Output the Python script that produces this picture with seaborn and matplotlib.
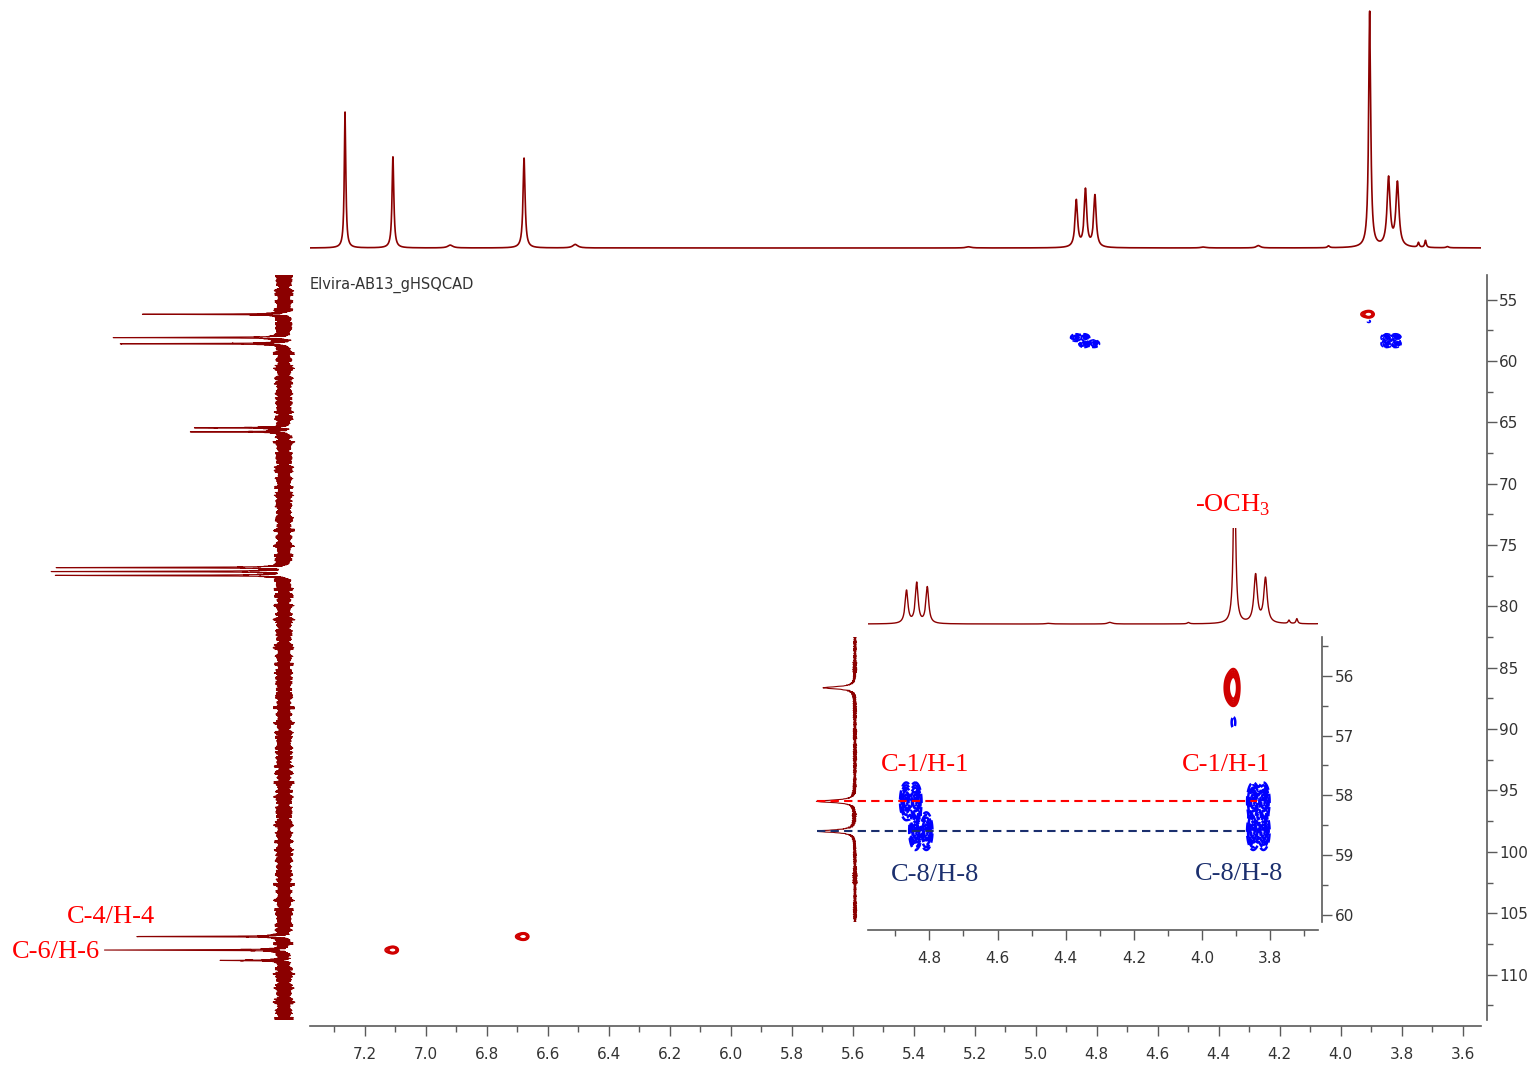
import numpy as np
import seaborn as sns
import matplotlib.pyplot as plt
from matplotlib.ticker import MultipleLocator, FormatStrFormatter

sns.set_theme(style="white")
plt.rcParams["font.family"] = ["DejaVu Sans"]
plt.rcParams["mathtext.fontset"] = "custom"
plt.rcParams["mathtext.rm"] = "Liberation Serif"

# colours
spec_red = "#8B0000"
label_red = "#FF0000"
label_navy = "#1B2F6E"
pos_red = "#D00000"
neg_blue = "#0000FF"
axis_grey = "#5A5A5A"
text_grey = "#333333"

# 1H projection (ppm, relative height, half width)
h_shift = [7.265, 7.108, 6.678, 6.920, 6.510, 5.220, 4.867, 4.837, 4.806, 4.450,
           4.270, 4.040, 3.905, 3.843, 3.814, 3.745, 3.722, 3.650]
h_height = [0.576, 0.386, 0.381, 0.012, 0.015, 0.005, 0.198, 0.243, 0.219, 0.004,
            0.010, 0.008, 1.000, 0.290, 0.270, 0.020, 0.030, 0.005]
h_hwhm = [0.003, 0.0035, 0.004, 0.010, 0.010, 0.010, 0.005, 0.005, 0.005, 0.010,
          0.008, 0.004, 0.004, 0.006, 0.006, 0.003, 0.003, 0.005]

# 13C projection (ppm, relative height)
c_shift = [56.2, 58.1, 58.6, 65.45, 65.78, 76.84, 77.16, 77.48, 106.9, 108.0, 108.85]
c_height = [0.574, 0.709, 0.705, 0.342, 0.367, 0.96, 0.96, 0.96, 0.633, 0.726, 0.249]
c_hwhm = 0.025

# baseline noise texture of the 13C trace
noise_a = [0.6, -0.9, 0.3, 1.0, -0.4, -1.0, 0.8, -0.2, 0.5, -0.7, 0.9, -0.5,
           0.1, -0.8, 0.7, 0.2, -0.6, 0.4, -0.3, 0.95, -0.85, 0.35, -0.15]
noise_b = [0.9, 0.6, 1.3, 0.75, 0.85, 0.55, 1.1, 0.7, 1.4, 0.65, 0.8, 1.0, 0.6]
noise_c = [1.2, 0.7, 1.0, 0.6, 1.3, 0.85, 0.65]

# HSQC cross peaks (1H ppm, 13C ppm, sign/amplitude)
cross_h = [7.108, 7.123, 6.680, 6.695, 3.908, 3.923, 3.908,
           4.868, 4.841, 4.841, 4.809, 3.850, 3.850, 3.820, 3.820]
cross_c = [108.0, 108.0, 106.9, 106.9, 56.2, 56.2, 56.78,
           58.1, 58.1, 58.6, 58.6, 58.1, 58.6, 58.1, 58.6]
cross_amp = [1.0, 0.2, 1.0, 0.2, 1.0, 0.2, -0.1,
             -1.0, -1.0, -1.0, -1.0, -1.0, -1.0, -1.0, -1.0]
sig_h, sig_c = 0.008, 0.14

pos_levels = [0.08, 0.14, 0.22, 0.32, 0.45]
neg_levels = [-0.9, -0.72, -0.55, -0.4, -0.27, -0.16, -0.08]

# ---- traces ----
h_axis = np.arange(3.50, 7.40, 0.0005)
h_trace = np.zeros_like(h_axis)
for x0, a, w in zip(h_shift, h_height, h_hwhm):
    h_trace += a * w**2 / ((h_axis - x0)**2 + w**2)

c_axis = np.arange(53.0, 113.7, 0.005)
c_trace = np.zeros_like(c_axis)
for x0, a in zip(c_shift, c_height):
    c_trace += a * c_hwhm**2 / ((c_axis - x0)**2 + c_hwhm**2)
n = len(c_axis)
envelope = 0.5 * (np.resize(np.repeat(noise_b, 37), n) + np.resize(np.repeat(noise_c, 59), n))
c_trace += 0.034 * np.resize(noise_a, n) * envelope


def hsqc_field(hh, cc):
    z = np.zeros_like(hh)
    for h0, c0, a in zip(cross_h, cross_c, cross_amp):
        z += a * np.exp(-0.5 * ((hh - h0) / sig_h)**2 - 0.5 * ((cc - c0) / sig_c)**2)
    return z


W, H = 1533, 1066
fig = plt.figure(figsize=(W / 100, H / 100), dpi=100)


def rect(x0, y0, x1, y1):
    return [x0 / W, 1 - y1 / H, (x1 - x0) / W, (y1 - y0) / H]


def style_axis(a, xmaj, xmin, ymaj, ymin, off_b, off_r, pady):
    for s in ["top", "left"]:
        a.spines[s].set_visible(False)
    for s in ["bottom", "right"]:
        a.spines[s].set_color(axis_grey)
        a.spines[s].set_linewidth(1.2)
    a.spines["bottom"].set_position(("outward", off_b))
    a.spines["right"].set_position(("outward", off_r))
    a.yaxis.tick_right()
    a.xaxis.set_major_locator(MultipleLocator(xmaj))
    a.xaxis.set_minor_locator(MultipleLocator(xmin))
    a.yaxis.set_major_locator(MultipleLocator(ymaj))
    a.yaxis.set_minor_locator(MultipleLocator(ymin))
    a.xaxis.set_major_formatter(FormatStrFormatter("%.1f"))
    a.yaxis.set_major_formatter(FormatStrFormatter("%d"))
    a.tick_params(which="both", bottom=True, right=True, left=False, top=False,
                  direction="out", color=axis_grey, labelcolor=text_grey,
                  labelsize=11, width=1)
    a.tick_params(which="major", length=7)
    a.tick_params(which="minor", length=4)
    a.tick_params(axis="x", pad=8)
    a.tick_params(axis="y", pad=pady)
    a.set_xlabel("")
    a.set_ylabel("")
    a.grid(False)


# ---- main 2D ----
h_lim = (7.38, 3.54)
c_lim = (113.7, 53.0)
ax = fig.add_axes(rect(310, 275, 1481, 1020))
hg = np.linspace(3.54, 7.38, 1500)
cg = np.linspace(53.0, 113.7, 1500)
HH, CC = np.meshgrid(hg, cg)
Z = hsqc_field(HH, CC)
ax.contour(HH, CC, Z, levels=pos_levels, colors=pos_red, linewidths=1.0)
ax.contour(HH, CC, Z, levels=neg_levels, colors=neg_blue, linewidths=1.1)
ax.set_xlim(*h_lim)
ax.set_ylim(*c_lim)
style_axis(ax, 0.2, 0.1, 5, 2.5, 4.5, 4.5, 1.5)
ax.text(0.0, 0.987, "Elvira-AB13_gHSQCAD", transform=ax.transAxes, fontsize=10.5,
        color=text_grey, ha="left", va="center")

# ---- top 1H projection ----
ax_top = fig.add_axes(rect(310, 8, 1481, 252))
sns.lineplot(x=h_axis, y=h_trace, sort=False, estimator=None, color=spec_red,
             lw=1.2, ax=ax_top)
ax_top.set_xlim(*h_lim)
ax_top.set_ylim(-0.017, 1.017)
ax_top.axis("off")

# ---- left 13C projection ----
ax_left = fig.add_axes(rect(40, 275, 300, 1020))
sns.lineplot(x=c_trace, y=c_axis, sort=False, estimator=None, orient="y",
             color=spec_red, lw=0.8, ax=ax_left)
ax_left.set_xlim(1.030, -0.0675)
ax_left.set_ylim(*c_lim)
ax_left.axis("off")
ax_left.text(0.730, 105.32, "C-4/H-4", color=label_red, family="Liberation Serif",
             fontsize=19, ha="center", va="center")
ax_left.text(0.962, 108.18, "C-6/H-6", color=label_red, family="Liberation Serif",
             fontsize=19, ha="center", va="center")

# ---- inset ----
ih_lim = (4.98, 3.66)
ic_lim = (60.12, 55.35)

ax_itop = fig.add_axes(rect(868, 528, 1318, 628))
sns.lineplot(x=h_axis, y=h_trace, sort=False, estimator=None, color=spec_red,
             lw=1.0, ax=ax_itop)
ax_itop.set_xlim(*ih_lim)
ax_itop.set_ylim(-0.024, 0.58)
ax_itop.axis("off")
ax_itop.text(3.909, 0.677, r"-OCH$_3$", color=label_red, family="Liberation Serif",
             fontsize=19, ha="center", va="baseline", clip_on=False)

ax_ileft = fig.add_axes(rect(810, 637, 862, 922))
sns.lineplot(x=c_trace, y=c_axis, sort=False, estimator=None, orient="y",
             color=spec_red, lw=0.8, ax=ax_ileft)
ax_ileft.set_xlim(0.84, -0.13)
ax_ileft.set_ylim(*ic_lim)
ax_ileft.axis("off")

ax_in = fig.add_axes(rect(868, 637, 1318, 922))
ax_in.set_facecolor("none")
hg2 = np.linspace(3.66, 4.98, 1100)
cg2 = np.linspace(55.35, 60.12, 700)
HH2, CC2 = np.meshgrid(hg2, cg2)
Z2 = hsqc_field(HH2, CC2)
ax_in.contour(HH2, CC2, Z2, levels=pos_levels, colors=pos_red, linewidths=1.6)
ax_in.contour(HH2, CC2, Z2, levels=neg_levels, colors=neg_blue, linewidths=1.8)
ax_in.set_xlim(*ih_lim)
ax_in.set_ylim(*ic_lim)
style_axis(ax_in, 0.2, 0.1, 1, 0.5, 6, 3, 2)

ax_in.axhline(c_shift[1], xmin=-0.113, xmax=0.864, color=label_red,
              ls=(0, (4, 2.5)), lw=1.5, clip_on=False, zorder=5)
ax_in.axhline(c_shift[2], xmin=-0.113, xmax=0.849, color=label_navy,
              ls=(0, (4, 2.5)), lw=1.5, clip_on=False, zorder=5)

ax_in.text(4.812, 57.5, "C-1/H-1", color=label_red, family="Liberation Serif",
           fontsize=19, ha="center", va="center")
ax_in.text(3.929, 57.5, "C-1/H-1", color=label_red, family="Liberation Serif",
           fontsize=19, ha="center", va="center")
ax_in.text(4.782, 59.34, "C-8/H-8", color=label_navy, family="Liberation Serif",
           fontsize=19, ha="center", va="center")
ax_in.text(3.891, 59.31, "C-8/H-8", color=label_navy, family="Liberation Serif",
           fontsize=19, ha="center", va="center")

fig.savefig("out.png", dpi=100, facecolor="white")
plt.close(fig)
